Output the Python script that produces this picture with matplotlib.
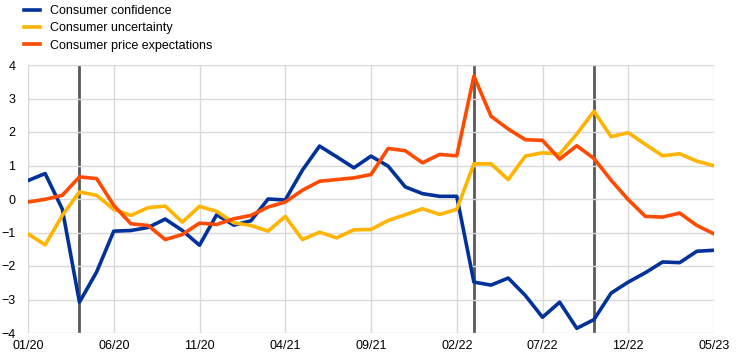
import matplotlib.pyplot as plt
import pandas as pd

months = pd.date_range("2020-01-01", "2023-05-01", freq="MS")

confidence = [0.55, 0.76, -0.3, -3.08, -2.18, -0.96, -0.94, -0.85, -0.6, -0.94,
              -1.38, -0.47, -0.78, -0.65, 0.0, -0.03, 0.86, 1.58, 1.26, 0.93,
              1.28, 0.98, 0.36, 0.16, 0.08, 0.08, -2.48, -2.57, -2.36, -2.88,
              -3.53, -3.08, -3.86, -3.6, -2.81, -2.48, -2.2, -1.88, -1.9, -1.56,
              -1.53]
uncertainty = [-1.04, -1.37, -0.49, 0.21, 0.11, -0.31, -0.49, -0.26, -0.21, -0.69,
               -0.22, -0.37, -0.71, -0.79, -0.96, -0.52, -1.21, -0.99, -1.16, -0.92,
               -0.91, -0.64, -0.47, -0.29, -0.46, -0.31, 1.05, 1.05, 0.58, 1.28,
               1.38, 1.34, 1.94, 2.62, 1.86, 1.98, 1.63, 1.29, 1.35, 1.13,
               0.99]
price_exp = [-0.09, -0.01, 0.11, 0.66, 0.61, -0.19, -0.74, -0.79, -1.21, -1.06,
             -0.72, -0.76, -0.59, -0.49, -0.24, -0.09, 0.26, 0.53, 0.58, 0.63,
             0.73, 1.51, 1.44, 1.08, 1.33, 1.29, 3.67, 2.47, 2.09, 1.77,
             1.75, 1.19, 1.59, 1.21, 0.56, -0.02, -0.52, -0.54, -0.42, -0.79,
             -1.04]
event_months = [3, 26, 33]  # 04/20, 03/22, 10/22

labels = [m.strftime("%m/%y") for m in months]
x = list(range(len(months)))

plt.rcParams["font.family"] = ["Liberation Sans", "DejaVu Sans"]
fig = plt.figure(figsize=(7.43, 3.59), dpi=100)
ax = fig.add_axes([28 / 743, 1 - 333 / 359, (714 - 28) / 743, (333 - 65) / 359])

for i in event_months:
    ax.axvline(i, color="#595959", lw=2, zorder=1)

ax.plot(x, confidence, color="#003299", lw=2.6, label="Consumer confidence", zorder=3)
ax.plot(x, uncertainty, color="#FFB400", lw=2.6, label="Consumer uncertainty", zorder=3)
ax.plot(x, price_exp, color="#FF4B00", lw=2.6, label="Consumer price expectations", zorder=3)

ax.set_xlim(0, len(months) - 1)
ax.set_ylim(-4, 4)
ax.set_yticks(range(-4, 5))
ax.set_xticks(x[::5])
ax.set_xticklabels(labels[::5])
ax.grid(True, color="#d9d9d9", lw=1, zorder=0)
for s in ax.spines.values():
    s.set_visible(False)
ax.tick_params(length=0, labelsize=9, colors="black")
ax.tick_params(axis="y", pad=9)
ax.tick_params(axis="x", pad=5)

fig.legend(loc="upper left", bbox_to_anchor=(19 / 743, 1.0), frameon=False,
           fontsize=9, handlelength=1.3, handletextpad=0.8, labelspacing=0.42,
           borderaxespad=0)

fig.savefig("out.png", dpi=100)
